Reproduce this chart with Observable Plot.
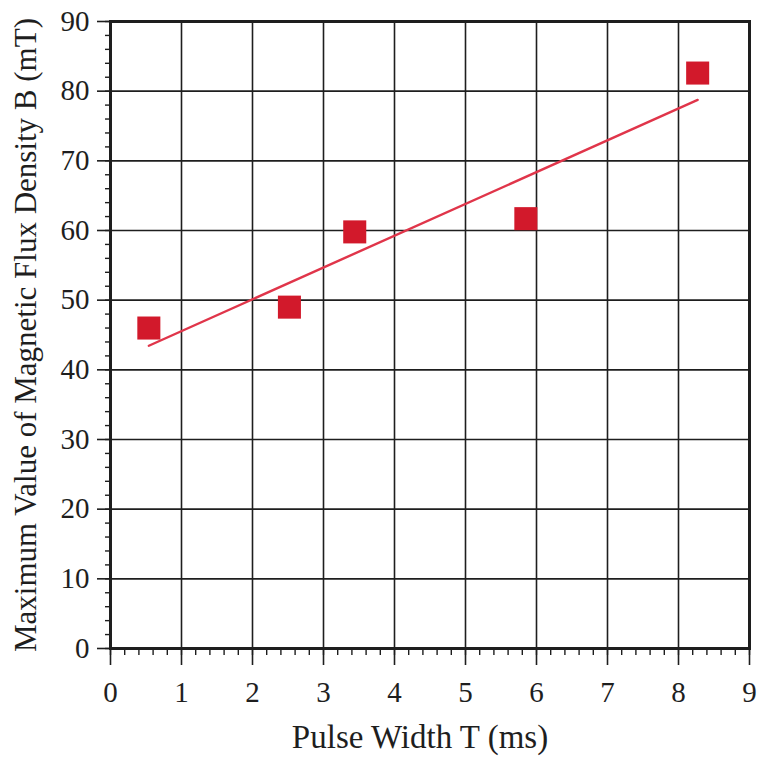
<!DOCTYPE html>
<html>
<head>
<meta charset="utf-8">
<script src="https://cdn.jsdelivr.net/npm/d3@7"></script>
<script src="https://cdn.jsdelivr.net/npm/@observablehq/plot@0.6"></script>
<style>
  html, body { margin: 0; padding: 0; background: #fff; }
  #chart svg { display: block; }
</style>
</head>
<body>
<div id="chart"></div>
<script>
// Measured maximum flux density for each pulse width
const pulseWidth = [0.54, 2.52, 3.44, 5.85, 8.27];   // T (ms)
const fluxDensity = [46.0, 49.0, 59.8, 61.7, 82.6];  // B (mT)

const xTicks = [0, 1, 2, 3, 4, 5, 6, 7, 8, 9];
const yTicks = [0, 10, 20, 30, 40, 50, 60, 70, 80, 90];

const xLabel = "Pulse Width T (ms)";
const yLabel = "Maximum Value of Magnetic Flux Density B (mT)";

const data = pulseWidth.map((x, i) => ({x, y: fluxDensity[i]}));

const ink = "#1e1e1e";
const serif = "'Liberation Serif', 'Times New Roman', serif";

const chart = Plot.plot({
  width: 759,
  height: 763,
  marginLeft: 110,
  marginRight: 10,
  marginTop: 21,
  marginBottom: 115,
  style: {fontFamily: serif, fontSize: "29px", color: ink, background: "#fff"},
  x: {domain: [0, 9]},
  y: {domain: [0, 90]},
  marks: [
    // grid
    Plot.gridX(xTicks, {stroke: ink, strokeOpacity: 1, strokeWidth: 1.6}),
    Plot.gridY(yTicks, {stroke: ink, strokeOpacity: 1, strokeWidth: 1.6}),
    // minor ticks
    Plot.axisX({interval: 0.2, tickSize: 7, text: null, label: null, stroke: ink, strokeWidth: 1.4}),
    Plot.axisY({interval: 2, tickSize: 5, text: null, label: null, stroke: ink, strokeWidth: 1.4}),
    // major ticks and labels
    Plot.axisX({ticks: xTicks, tickSize: 17, tickPadding: 16, label: null, stroke: ink, strokeWidth: 1.6, fill: ink}),
    Plot.axisY({ticks: yTicks, tickSize: 13, tickPadding: 8, label: null, stroke: ink, strokeWidth: 1.6, fill: ink}),
    Plot.frame({stroke: ink, strokeWidth: 3}),
    // fitted line and data points
    Plot.linearRegressionY(data, {x: "x", y: "y", ci: 0, stroke: "#e0354a", strokeWidth: 2.4}),
    Plot.dot(data, {x: "x", y: "y", symbol: "square", r: 13, fill: "#d2192b", stroke: "none"}),
    // axis titles
    Plot.text([xLabel], {frameAnchor: "bottom", dy: 89, dx: -10, text: d => d, fontSize: 33, fill: ink, textAnchor: "middle", lineAnchor: "middle"}),
    Plot.text([yLabel], {frameAnchor: "left", dx: -84, rotate: -90, text: d => d, fontSize: 31, fill: ink, textAnchor: "middle", lineAnchor: "middle"})
  ]
});

document.getElementById("chart").appendChild(chart);
</script>
</body>
</html>
